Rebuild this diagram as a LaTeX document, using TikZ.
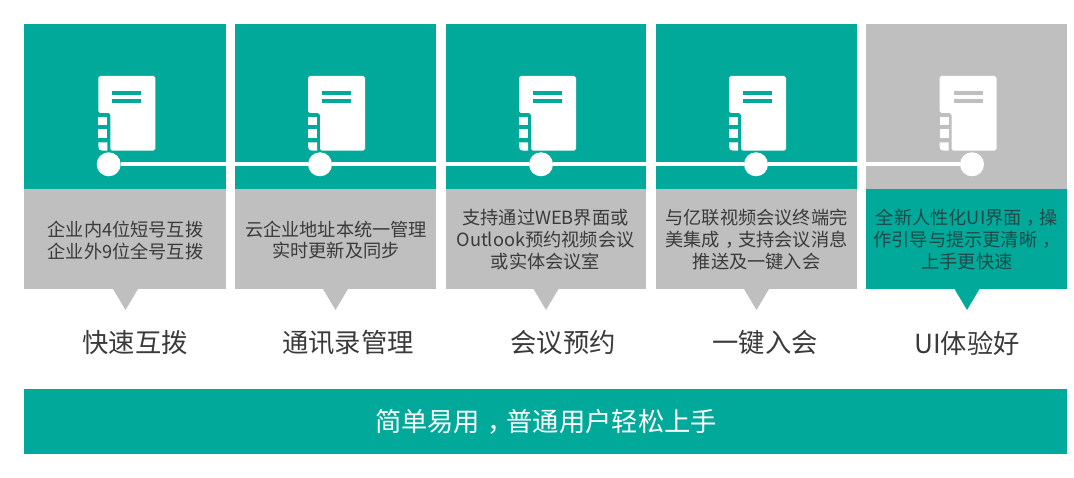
\documentclass[tikz,border=0pt]{standalone}
\usepackage{fontspec}
\setmainfont{Noto Sans CJK SC}
\definecolor{teal}{HTML}{00A99A}
\definecolor{pane}{HTML}{BFBFBF}
\definecolor{ink}{HTML}{3A3A3A}
\definecolor{tealink}{HTML}{1F4A47}
\newcommand{\midcomma}{\hspace{.28em}，\hspace{-.28em}}
\tikzset{
  x=1pt,y=-1pt,
  hub/.style={circle,fill=white,draw=none,minimum size=24pt,inner sep=0pt},
  rail/.style={white,line width=4pt},
  desc/.style={text=ink,align=center,inner sep=0pt,font=\fontsize{18.2}{21.7}\selectfont},
  title/.style={text=ink,inner sep=0pt,font=\fontsize{26.3}{30}\selectfont},
  banner/.style={text=white,inner sep=0pt,font=\fontsize{26.3}{30}\selectfont},
  notepic/.pic={
    \fill[white,rounded corners=1.8pt] (0,0) -- (57,0) -- (57,74.7) -- (12,74.7) -- (12,37) -- (0,37) -- cycle;
    \fill[white] (0,40.7) rectangle (9,49);
    \fill[white] (0,53) rectangle (9,61.7);
    \fill[white] (0,66.3) -- (9,66.3) -- (9,74.7) -- (4,74.7) .. controls (1,74.7) and (0,73) .. (0,70) -- cycle;
    \fill[pic actions] (14,14.7) rectangle (43,19);
    \fill[pic actions] (14,23) rectangle (43,27.3);
  }
}
\newcommand{\panel}[5]{% left, right, tip x, top colour, bottom colour
  \fill[#4] (#1,24) rectangle (#2,189);
  \fill[#5] (#1,189) rectangle (#2,289);
  \fill[#5] (#3-12.5,289) -- (#3+12.5,289) -- (#3,310) -- cycle;
}
\begin{document}
\begin{tikzpicture}
\useasboundingbox (0,0) rectangle (1074,478);
\fill[white] (0,0) rectangle (1074,478);
\panel{24}{226}{125.5}{teal}{pane}
\panel{235}{436}{335.5}{teal}{pane}
\panel{446}{646}{546}{teal}{pane}
\panel{656}{857}{756.5}{teal}{pane}
\panel{866}{1067}{967}{pane}{teal}
\pic[fill=teal] at (98.3,76) {notepic};
\pic[fill=teal] at (308,76) {notepic};
\pic[fill=teal] at (519,76) {notepic};
\pic[fill=teal] at (729,76) {notepic};
\pic[fill=pane] at (939.5,76) {notepic};
\node[hub] (h1) at (108.7,164.3) {};
\node[hub] (h2) at (320,164.3) {};
\node[hub] (h3) at (541,164.3) {};
\node[hub] (h4) at (756,164.3) {};
\node[hub] (h5) at (972,164.3) {};
\draw[rail] (h1) -- (h2);
\draw[rail] (h2) -- (h3);
\draw[rail] (h3) -- (h4);
\draw[rail] (h4) -- (h5);
\node[desc] (d1) at (125.5,240.5) {企业内4位短号互拨\\企业外9位全号互拨};
\node[desc] (d2) at (336,240) {云企业地址本统一管理\\实时更新及同步};
\node[desc] (d3) at (545.5,239.5) {支持通过WEB界面或\\Outlook预约视频会议\\或实体会议室};
\node[desc] (d4) at (756.5,239.5) {与亿联视频会议终端完\\美集成\midcomma 支持会议消息\\推送及一键入会};
\node[desc,text=tealink] (d5) at (967,239.5) {全新人性化UI界面\midcomma 操\\作引导与提示更清晰\midcomma\\上手更快速};
\node[title] (t1) at (135,343) {快速互拨};
\node[title] (t2) at (348,343) {通讯录管理};
\node[title] (t3) at (563,343) {会议预约};
\node[title] (t4) at (765,343) {一键入会};
\node[title] (t5) at (967,343) {UI体验好};
\fill[teal] (24,389) rectangle (1067,454);
\node[banner] (b) at (546,422) {简单易用\midcomma 普通用户轻松上手};
\end{tikzpicture}
\end{document}
